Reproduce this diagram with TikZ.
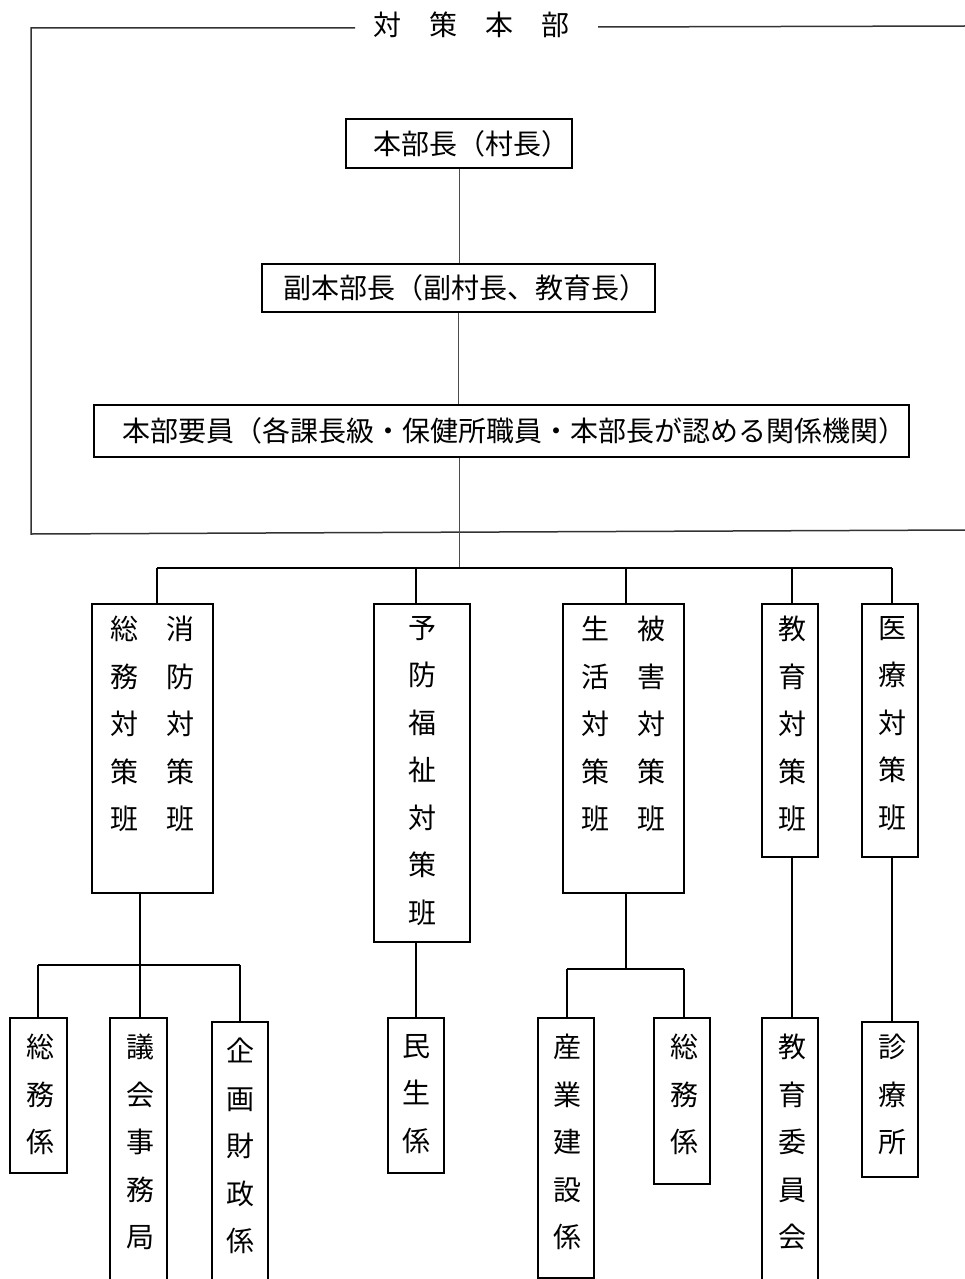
\documentclass[tikz,border=0pt]{standalone}
\usepackage{fontspec}
\newfontfamily\jpfont{Noto Sans CJK JP}
\usetikzlibrary{positioning}

\begin{document}
\begin{tikzpicture}[x=1pt,y=-1pt,
  head/.style={draw,line width=1.6pt,inner sep=0pt,align=left,
    font=\jpfont\fontsize{28}{34}\selectfont},
  unit/.style={draw,line width=1.6pt,anchor=north,inner sep=0pt},
  vtxt/.style={anchor=north,inner sep=0pt,align=center,
    font=\jpfont\fontsize{28}{47.5}\selectfont},
  link/.style={line width=1.6pt},
  feed/.style={line width=1pt,color=black!70},
  frame/.style={line width=1.5pt,color=black!80}]
\useasboundingbox (0,0) rectangle (965,1279);
\clip (0,0) rectangle (965,1279);

% frame of the headquarters
\node[inner sep=0pt,font=\jpfont\fontsize{28}{34}\selectfont] (title) at (471,25)
  {対\hspace{28pt}策\hspace{28pt}本\hspace{28pt}部};
\draw[frame] (355,28) -- (31,28) -- (31,534) -- (965,530);
\draw[frame] (598,27) -- (965,26);

% top of the chain
\node[head,text width=226pt,minimum height=49pt] (chief) at (459,143.5)
  {\hspace*{27pt}本部長（村長）};
\node[head,text width=393pt,minimum height=48pt] (vice) at (458.5,288)
  {\hspace*{21pt}副本部長（副村長、教育長）};
\node[head,text width=815pt,minimum height=52pt] (staff) at (501.5,431)
  {\hspace*{28pt}本部要員（各課長級・保健所職員・本部長が認める関係機関）};
\coordinate (hub) at (459,568);
\draw[feed] (chief.south) -- (chief.south |- vice.north);
\draw[feed] (vice.south) -- (vice.south |- staff.north);
\draw[feed] (hub |- staff.south) -- (hub);

% teams
\node[unit,minimum width=121pt,minimum height=289pt] (somu) at (152.5,603) {};
\node[vtxt,below=13pt of somu.north] (somu-t)
  {総\hspace{28.5pt}消\\務\hspace{28.5pt}防\\対\hspace{28.5pt}対\\策\hspace{28.5pt}策\\班\hspace{28.5pt}班};
\node[unit,minimum width=96pt,minimum height=338pt] (yobo) at (422,603) {};
\node[vtxt,below=13pt of yobo.north] (yobo-t) {予\\防\\福\\祉\\対\\策\\班};
\node[unit,minimum width=121pt,minimum height=289pt] (seikatsu) at (623.5,603) {};
\node[vtxt,below=13pt of seikatsu.north] (seikatsu-t)
  {生\hspace{28pt}被\\活\hspace{28pt}害\\対\hspace{28pt}対\\策\hspace{28pt}策\\班\hspace{28pt}班};
\node[unit,minimum width=56pt,minimum height=253pt] (kyoiku) at (790,603) {};
\node[vtxt,below=13pt of kyoiku.north,xshift=2pt] (kyoiku-t) {教\\育\\対\\策\\班};
\node[unit,minimum width=56pt,minimum height=253pt] (iryo) at (890,603) {};
\node[vtxt,below=13pt of iryo.north,xshift=2pt] (iryo-t) {医\\療\\対\\策\\班};

\coordinate (t1) at (157,568);
\coordinate (t2) at (416,568);
\coordinate (t3) at (626,568);
\coordinate (t4) at (792,568);
\coordinate (t5) at (892,568);
\draw[link] (t1) -- (t5);
\foreach \t/\n in {t1/somu,t2/yobo,t3/seikatsu,t4/kyoiku,t5/iryo}
  \draw[link] (\t) -- (\t |- \n.north);

% sections
\node[unit,minimum width=57pt,minimum height=155pt] (somu1) at (38.5,1017) {};
\node[vtxt,below=17pt of somu1.north,xshift=1.5pt] (somu1-t) {総\\務\\係};
\node[unit,minimum width=57pt,minimum height=300pt] (gikai) at (138.5,1017) {};
\node[vtxt,below=17pt of gikai.north,xshift=1.5pt] (gikai-t) {議\\会\\事\\務\\局};
\node[unit,minimum width=56pt,minimum height=300pt] (kikaku) at (240,1021) {};
\node[vtxt,below=17pt of kikaku.north] (kikaku-t) {企\\画\\財\\政\\係};
\node[unit,minimum width=56pt,minimum height=155pt] (minsei) at (416,1017) {};
\node[vtxt,below=17pt of minsei.north] (minsei-t) {民\\生\\係};
\node[unit,minimum width=56pt,minimum height=260pt] (sangyo) at (566,1017) {};
\node[vtxt,below=17pt of sangyo.north,xshift=1pt] (sangyo-t) {産\\業\\建\\設\\係};
\node[unit,minimum width=56pt,minimum height=166pt] (somu2) at (682,1017) {};
\node[vtxt,below=17pt of somu2.north,xshift=2pt] (somu2-t) {総\\務\\係};
\node[unit,minimum width=56pt,minimum height=300pt] (iinkai) at (790,1017) {};
\node[vtxt,below=17pt of iinkai.north,xshift=2pt] (iinkai-t) {教\\育\\委\\員\\会};
\node[unit,minimum width=56pt,minimum height=155pt] (shinryo) at (890,1021) {};
\node[vtxt,below=13pt of shinryo.north,xshift=2pt] (shinryo-t) {診\\療\\所};

\coordinate (s0) at (140,965);
\coordinate (s1) at (38,965);
\coordinate (s2) at (240,965);
\draw[link] (s0 |- somu.south) -- (s0);
\draw[link] (s1) -- (s2);
\draw[link] (s1) -- (s1 |- somu1.north);
\draw[link] (s0) -- (s0 |- gikai.north);
\draw[link] (s2) -- (s2 |- kikaku.north);
\draw[link] (t2 |- yobo.south) -- (t2 |- minsei.north);
\coordinate (g0) at (626,969);
\coordinate (g1) at (567,969);
\coordinate (g2) at (684,969);
\draw[link] (g0 |- seikatsu.south) -- (g0);
\draw[link] (g1) -- (g2);
\draw[link] (g1) -- (g1 |- sangyo.north);
\draw[link] (g2) -- (g2 |- somu2.north);
\draw[link] (t4 |- kyoiku.south) -- (t4 |- iinkai.north);
\draw[link] (t5 |- iryo.south) -- (t5 |- shinryo.north);
\end{tikzpicture}
\end{document}
